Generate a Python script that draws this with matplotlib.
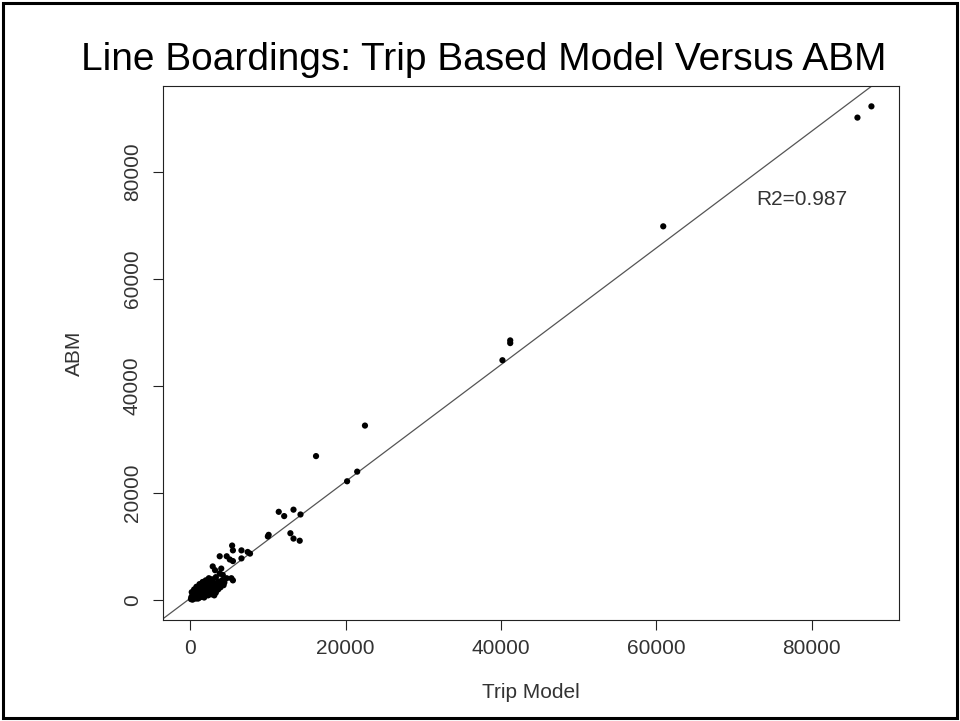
import matplotlib
matplotlib.use("Agg")
import matplotlib.pyplot as plt
from matplotlib.patches import Rectangle

plt.rcParams['font.family'] = ['Liberation Sans', 'DejaVu Sans']

# Trip model boardings vs ABM boardings, one point per line
trip_model = [87700, 85900, 60900, 41200, 41200, 40200, 22500, 16200, 21500, 20200,
              11400, 12100, 13300, 14200, 10100, 10000, 12900, 13300, 14100,
              5400, 5500, 6600, 7400, 7700, 3800, 4700, 5100, 5500, 6600,
              2900, 3200, 4000, 3800, 4200, 4700, 5300, 5500, 2900, 3100,
              100, 300, 500, 200, 700, 900, 400, 1100, 1200, 600, 1500, 1600, 900, 1900,
              2000, 1300, 2200, 2400, 1700, 2600, 2800, 2100, 3000, 3200, 2500, 3400,
              3600, 2800, 3800, 4100, 3300, 1000, 1400, 1800, 2300, 2700, 3300, 3600,
              3900, 200, 500, 800, 1200, 1600, 2000, 2400, 150, 350, 650, 1050, 1400,
              1750, 2150, 2550, 2950, 4300, 4400]
abm = [92200, 90100, 69800, 48000, 48500, 44800, 32600, 26900, 24000, 22200,
       16500, 15700, 16900, 16000, 12200, 11900, 12500, 11500, 11100,
       10200, 9300, 9300, 9000, 8700, 8200, 8200, 7600, 7300, 7800,
       6300, 5600, 5900, 5000, 4700, 4100, 4100, 3700, 1900, 900,
       200, 100, 400, 700, 300, 700, 1000, 400, 1100, 1400, 800, 1500, 1800, 1100,
       1900, 2200, 1500, 2300, 2600, 1800, 2700, 3000, 2200, 3100, 3400, 2600,
       3500, 3900, 3000, 3700, 4300, 300, 600, 500, 900, 1100, 1400, 2000,
       2400, 1500, 2000, 2500, 3000, 3400, 3700, 4100, 500, 800, 1100, 1500, 1900,
       2200, 2500, 2900, 3300, 2800, 3300]

fit_intercept = 350
fit_slope = 1.09
r2_text = "R2=0.987"

ticks = [0, 20000, 40000, 60000, 80000]
tick_labels = ["0", "20000", "40000", "60000", "80000"]

fig = plt.figure(figsize=(9.6, 7.21), dpi=100)
fig.patch.set_facecolor('white')

# slide frame
fig.patches.append(Rectangle((3 / 960, 3 / 721), 954 / 960, 715 / 721, transform=fig.transFigure,
                             fill=False, edgecolor='black', linewidth=2.2))

fig.text(0.504, 1 - 69.5 / 721, "Line Boardings: Trip Based Model Versus ABM",
         ha='center', va='baseline', fontsize=28, color='black')

ax = fig.add_axes([163 / 960, 1 - 620 / 721, 736 / 960, 534 / 721])
ax.scatter(trip_model, abm, s=20, c='black', edgecolors='none', zorder=3)
ax.axline((0, fit_intercept), slope=fit_slope, color='#555555', linewidth=0.9, zorder=2)

ax.set_xlim(-3500, 91250)
ax.set_ylim(-3700, 96000)
ax.set_xticks(ticks)
ax.set_xticklabels(tick_labels)
ax.set_yticks(ticks)
ax.set_yticklabels(tick_labels, rotation=90, va='center')

ax.tick_params(axis='both', direction='out', length=7.2, width=0.8, labelsize=15,
               labelcolor='#333333', color='#222222')
ax.tick_params(axis='x', pad=6.5)
ax.tick_params(axis='y', pad=8)
for s in ax.spines.values():
    s.set_linewidth(0.8)
    s.set_color('#222222')

ax.set_xlabel("Trip Model", fontsize=15, color='#333333', va='center')
ax.xaxis.set_label_coords(0.5, (620 - 693) / 534)
ax.set_ylabel("ABM", fontsize=15, color='#333333', va='center')
ax.yaxis.set_label_coords((74 - 163) / 736, 0.5)

ax.text(78760, 73750, r2_text, ha='center', va='baseline', fontsize=15, color='#333333')

fig.savefig("out.png", dpi=100)
